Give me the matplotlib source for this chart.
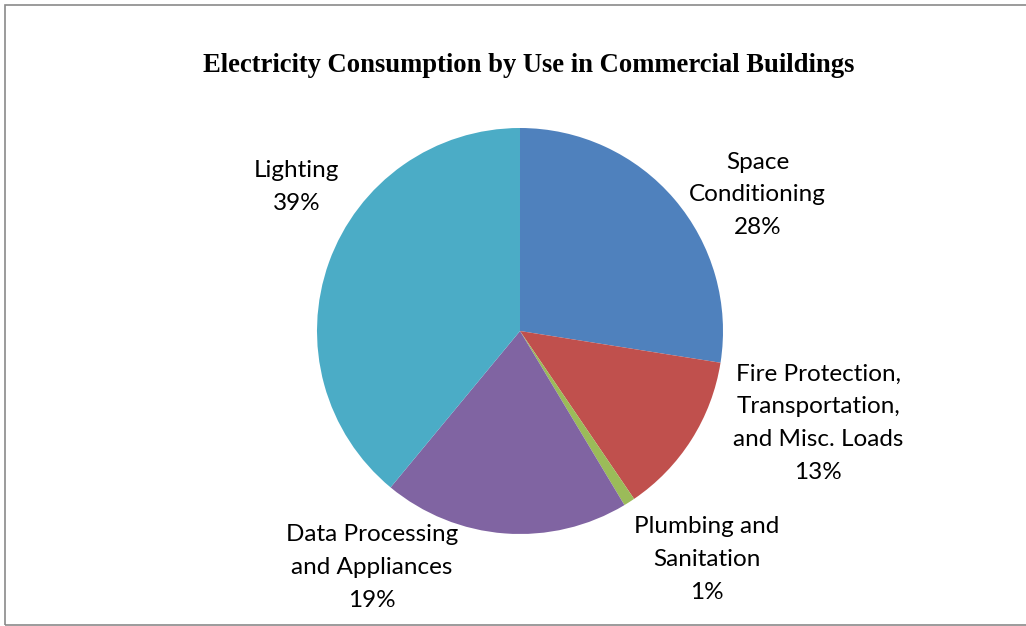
import matplotlib.pyplot as plt
from matplotlib.patches import Rectangle

# data
categories = ["Space\nConditioning", "Fire Protection,\nTransportation,\nand Misc. Loads",
              "Plumbing and\nSanitation", "Data Processing\nand Appliances", "Lighting"]
shares = [27.5, 13.0, 0.9, 19.6, 39.0]
pct_labels = ["28%", "13%", "1%", "19%", "39%"]
colors = ['#4F81BD', '#C0504D', '#9BBB59', '#8064A2', '#4BACC6']

# label centers in pie units (radius = 1)
label_pos = [(1.17, 0.67), (1.47, -0.455), (0.92, -1.125), (-0.73, -1.165), (-1.10, 0.71)]

W, H = 1026, 626
fig = plt.figure(figsize=(W / 100, H / 100), dpi=100)
fig.patches.append(Rectangle((5 / W, 1.5 / H), 1.2, (H - 6.5) / H, transform=fig.transFigure,
                             fill=False, edgecolor='#8a8a8a', linewidth=1.2))

cx, cy, r = 520, 331, 203
ax = fig.add_axes([(cx - r) / W, (H - cy - r) / H, 2 * r / W, 2 * r / H])
ax.pie(shares, colors=colors, startangle=90, counterclock=False,
       wedgeprops=dict(linewidth=0))
ax.set_xlim(-1, 1)
ax.set_ylim(-1, 1)
ax.set_aspect('equal')
ax.axis('off')

for name, p, (x, y) in zip(categories, pct_labels, label_pos):
    ax.text(x, y, f"{name}\n{p}", ha='center', va='center', fontsize=17.5,
            family='Lato', linespacing=1.7, clip_on=False)

fig.text(529 / W, 1 - 65 / H, "Electricity Consumption by Use in Commercial Buildings",
         ha='center', va='center', fontsize=19.2, fontweight='bold', family='Liberation Serif')

fig.savefig("out.png", dpi=100)
